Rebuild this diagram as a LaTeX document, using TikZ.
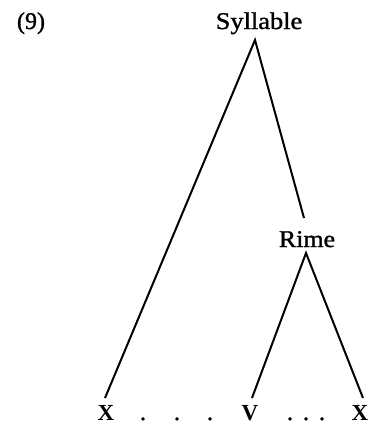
\documentclass[tikz,border=0pt]{standalone}
\usepackage{fontspec}
\setmainfont{Liberation Serif}
\newfontfamily\heavyserif{Liberation Serif}[FakeBold=1.2]
\begin{document}
\begin{tikzpicture}[x=1pt,y=-1pt,
  lbl/.style={anchor=base,inner sep=0pt,font=\fontsize{24}{28}\heavyserif},
  seg/.style={anchor=base,inner sep=0pt,font=\fontsize{23}{27}\selectfont\bfseries},
  dots/.style={anchor=base,inner sep=0pt,font=\fontsize{24}{28}\heavyserif},
  branch/.style={line width=2pt,line join=miter}]
\useasboundingbox (0,0) rectangle (372,424);
\node[lbl] (num) at (31,29) {(9)};
\node[lbl] (syl) at (259,29) {\scalebox{1.1}[1]{Syllable}};
\node[lbl] (rime) at (307,247) {\scalebox{1.08}[1]{Rime}};
\node[seg] (x1) at (106,420) {X};
\node[seg] (v) at (250,420) {V};
\node[seg] (x2) at (360,420) {X};
\node[dots] (d1) at (143,420) {.};
\node[dots] (d2) at (177,420) {.};
\node[dots] (d3) at (210,420) {.};
\node[dots] (d4) at (290,420) {.};
\node[dots] (d5) at (306,420) {.};
\node[dots] (d6) at (322,420) {.};
\draw[branch] ([shift={(-1,-22)}]x1.base) -- ([shift={(-4,11)}]syl.base) -- ([shift={(-3,-29)}]rime.base);
\draw[branch] ([shift={(2,-22)}]v.base) -- ([shift={(-1,6)}]rime.base) -- ([shift={(3,-22)}]x2.base);
\end{tikzpicture}
\end{document}
